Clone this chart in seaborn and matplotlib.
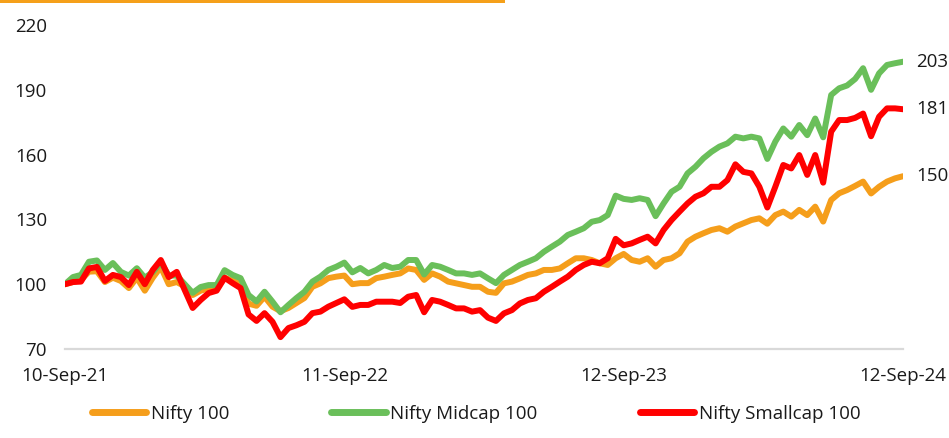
#!/usr/bin/env python3
"""Nifty 100 / Midcap 100 / Smallcap 100, rebased to 100 on 10-Sep-21."""
import pandas as pd
import matplotlib
matplotlib.use("Agg")
import matplotlib.pyplot as plt
import matplotlib.transforms as mtransforms
from matplotlib.lines import Line2D
import seaborn as sns

# sampling dates (roughly every 10-11 days across the 3 years)
dates = pd.date_range("2021-09-10", "2024-09-12", periods=106)

nifty_100 = [
    100, 101, 102, 105.8, 106, 101, 103, 101.5, 98.2, 103,
    97, 103, 108, 100, 101, 99, 95, 97, 98, 98,
    103, 101.7, 100, 91, 90, 94.2, 89.6, 87.5, 89, 91.3,
    93.6, 98.8, 100.4, 102.8, 103.5, 104, 100, 100.5, 100.5, 102.8,
    103.5, 104.3, 105, 107.3, 106.6, 102, 105, 103.5, 101.2, 100.4,
    99.6, 98.8, 98.8, 96.5, 96, 100.4, 101.2, 102.7, 104.3, 105,
    106.6, 106.6, 107.3, 109.7, 112, 112, 111.2, 109.7, 108.9, 112,
    114, 111.2, 110.4, 112, 108.1, 111.2, 112, 114.3, 119.7, 122,
    123.6, 125.1, 125.9, 124.3, 126.7, 128.2, 129.7, 130.5, 128, 132,
    133.6, 131.3, 134.4, 132, 135.9, 129, 139, 142.1, 143.6, 145.5,
    147.5, 142, 145.1, 147.5, 149, 150,
]
nifty_midcap = [
    100, 103.3, 104.3, 110.4, 111, 106.6, 109.8, 105.7, 104, 107.4,
    103, 105.6, 110, 104, 104, 100, 96, 98.7, 99.6, 99.6,
    106.5, 104.3, 102.8, 95, 92, 96.5, 91.9, 87, 90.4, 93.6,
    96.5, 101.2, 103.5, 106.6, 108.1, 110, 105.5, 107.5, 105, 106.6,
    108.9, 107.5, 108.1, 111.2, 111.2, 104.5, 108.9, 108.1, 106.6, 105,
    105, 104.3, 105, 102.7, 100.5, 104.3, 106.6, 108.9, 110.4, 112,
    115, 117.4, 119.7, 122.8, 124.3, 125.9, 128.9, 129.7, 132, 141,
    139.5, 139, 139.8, 139, 131.5, 137.4, 142.8, 145.1, 151.3, 154.4,
    158.3, 161.3, 163.7, 165.2, 168.3, 167.5, 168.3, 167.5, 158, 166,
    172.1, 168.3, 173.7, 169, 176.7, 168, 187.6, 190.7, 192, 195,
    200, 190, 197.6, 201.5, 202.3, 203,
]
nifty_smallcap = [
    100, 101, 101.2, 107.3, 108, 101.5, 104.3, 103.3, 99.6, 105.7,
    100, 106.6, 111.2, 103.3, 105.7, 97.3, 89, 92.7, 95.9, 97,
    103, 100.5, 98.2, 86, 83, 86.6, 82.6, 75.5, 79.7, 81,
    82.6, 86.6, 87.3, 89.6, 91.3, 93, 89.5, 90.4, 90.4, 91.9,
    91.9, 91.9, 91.3, 94.2, 95, 87, 92.7, 91.9, 90.4, 88.8,
    88.8, 87.3, 88, 84.5, 83, 86.5, 88, 91.1, 92.7, 93.5,
    96.5, 98.8, 101.2, 103.5, 106.6, 108.9, 110.4, 109.7, 112, 121,
    118, 118.9, 120.5, 122, 118.9, 125.1, 129.7, 133.6, 137.4, 140.5,
    142.1, 145.1, 145.1, 148.2, 155.5, 152, 151.3, 145.1, 135.5, 145.1,
    155.2, 153.6, 159.8, 150.6, 159.8, 147, 170.6, 176, 176, 177,
    179, 168.5, 177.5, 181.4, 181.4, 181,
]

series_names = ["Nifty 100", "Nifty Midcap 100", "Nifty Smallcap 100"]
colors = ["#F59E1B", "#6ABF5A", "#FF0000"]
tick_dates = ["2021-09-10", "2022-09-11", "2023-09-12", "2024-09-12"]
tick_labels = ["10-Sep-21", "11-Sep-22", "12-Sep-23", "12-Sep-24"]
y_ticks = [70, 100, 130, 160, 190, 220]

TEXT = "#1A1A1A"
FS = 13.5


def build_frame():
    parts = []
    for name, vals in zip(series_names, [nifty_100, nifty_midcap, nifty_smallcap]):
        parts.append(pd.DataFrame({"date": dates, "value": vals, "series": name}))
    return pd.concat(parts, ignore_index=True)


def main():
    sns.set_style("white")
    plt.rcParams["font.family"] = ["Open Sans", "DejaVu Sans"]

    df = build_frame()
    fig = plt.figure(figsize=(9.49, 4.38), dpi=100)
    ax = fig.add_axes([65 / 949, 89 / 438, 838 / 949, 324 / 438])

    sns.lineplot(data=df, x="date", y="value", hue="series", hue_order=series_names,
                 palette=colors, linewidth=4.3, ax=ax, legend=False)
    for ln in ax.get_lines():
        ln.set_solid_capstyle("round")
        ln.set_solid_joinstyle("round")

    ax.set_xlim(pd.Timestamp(dates[0]), pd.Timestamp(dates[-1]))
    ax.set_ylim(70, 220)
    ax.set_yticks(y_ticks)
    ax.set_xticks(pd.to_datetime(tick_dates))
    ax.set_xticklabels(tick_labels)
    ax.set_xlabel("")
    ax.set_ylabel("")

    for side in ["top", "right", "left"]:
        ax.spines[side].set_visible(False)
    ax.spines["bottom"].set_color("#D9D9D9")
    ax.spines["bottom"].set_linewidth(1.6)
    ax.tick_params(axis="y", length=0, pad=13, labelsize=FS, labelcolor=TEXT)
    ax.tick_params(axis="x", length=4, width=1.6, color="#D9D9D9", pad=9,
                   labelsize=FS, labelcolor=TEXT)

    # last values at the right edge
    trans = mtransforms.blended_transform_factory(fig.transFigure, ax.transData)
    for vals in [nifty_midcap, nifty_smallcap, nifty_100]:
        ax.text(0.999, vals[-1], f"{vals[-1]:.0f}", transform=trans, ha="right",
                va="center", fontsize=FS, color=TEXT, clip_on=False)

    handles = [Line2D([0], [0], color=c, lw=5, solid_capstyle="round") for c in colors]
    fig.legend(handles, series_names, loc="center", bbox_to_anchor=(0.5016, 1 - 414 / 438),
               ncol=3, frameon=False, handlelength=2.9, handletextpad=0.25,
               columnspacing=5.45, fontsize=FS, labelcolor=TEXT)

    # orange header rule
    fig.add_artist(plt.Rectangle((0, 1 - 3 / 438), 505 / 949, 3 / 438,
                                 transform=fig.transFigure, color="#F5A01A", lw=0))

    fig.savefig("out.png", dpi=100, facecolor="white")
    plt.close(fig)


if __name__ == "__main__":
    main()
